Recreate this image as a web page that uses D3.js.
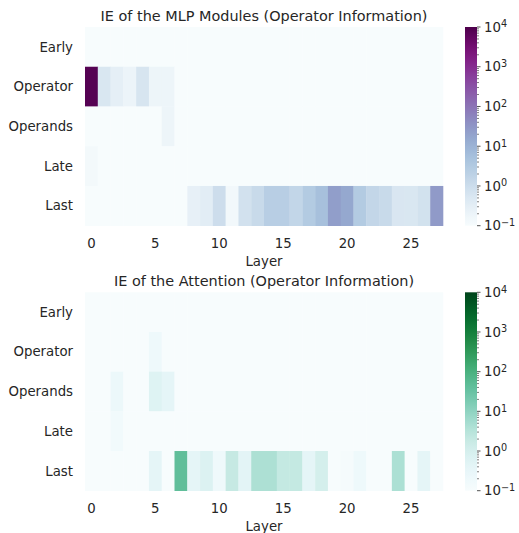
<!DOCTYPE html>
<html><head><meta charset="utf-8">
<script src="https://cdn.jsdelivr.net/npm/d3@7"></script>
<style>body{margin:0;background:#fff;} text{font-family:"DejaVu Sans",sans-serif;fill:#262626;}</style>
</head><body><svg id="c" width="519" height="533"></svg>
<script>
const rowLabels = ["Early","Operator","Operands","Late","Last"];
const layers = d3.range(28);
const xTickLabels = [0,5,10,15,20,25];
const cbTickExps = [-1,0,1,2,3,4];
const Z = 0.05;
// MLP IE values
const mlpEarly    = [Z,Z,Z,Z,Z,Z,Z,Z,Z,Z,Z,Z,Z,Z,Z,Z,Z,Z,Z,Z,Z,Z,Z,Z,Z,Z,Z,Z];
const mlpOperator = [8000,0.55,0.3,0.2,0.6,0.18,0.18,Z,Z,Z,Z,Z,Z,Z,Z,Z,Z,Z,Z,Z,Z,Z,Z,Z,Z,Z,Z,Z];
const mlpOperands = [Z,Z,Z,Z,Z,Z,0.18,Z,Z,Z,Z,Z,Z,Z,Z,Z,Z,Z,Z,Z,Z,Z,Z,Z,Z,Z,Z,Z];
const mlpLate     = [0.13,Z,Z,Z,Z,Z,Z,Z,Z,Z,Z,Z,Z,Z,Z,Z,Z,Z,Z,Z,Z,Z,Z,Z,Z,Z,Z,Z];
const mlpLast     = [Z,Z,Z,Z,Z,Z,Z,Z,0.27,0.35,0.97,0.14,0.78,1.2,2.4,2.4,1.55,3,5.3,23,16,3,1.5,1.2,0.56,0.55,0.75,27];
// Attention IE values
const attEarly    = [Z,Z,Z,Z,Z,Z,Z,Z,Z,Z,Z,Z,Z,Z,Z,Z,Z,Z,Z,Z,Z,Z,Z,Z,Z,Z,Z,Z];
const attOperator = [Z,Z,Z,Z,Z,0.2,Z,Z,Z,Z,Z,Z,Z,Z,Z,Z,Z,Z,Z,Z,Z,Z,Z,Z,Z,Z,Z,Z];
const attOperands = [Z,Z,0.23,Z,Z,0.6,0.4,Z,Z,Z,Z,Z,Z,Z,Z,Z,Z,Z,Z,Z,Z,Z,Z,Z,Z,Z,Z,Z];
const attLate     = [Z,Z,0.16,Z,Z,Z,Z,Z,Z,Z,Z,Z,Z,Z,Z,Z,Z,Z,Z,Z,Z,Z,Z,Z,Z,Z,Z,Z];
const attLast     = [Z,Z,Z,Z,Z,0.38,Z,42,0.4,0.67,0.19,1.9,0.45,4.2,4.2,2.0,2.0,0.4,1.06,Z,0.12,0.2,Z,Z,4.3,Z,0.4,Z];

const svg = d3.select("#c");
const FS = "13.3px";

function panel(cfg){
  const {rows, interp, title, top, bottom} = cfg;
  const x = d3.scaleBand().domain(layers).range([85,443]).padding(0);
  const y = d3.scaleBand().domain(rowLabels).range([top,bottom]).padding(0);
  const norm = d3.scaleLog().domain([0.1,1e4]).range([0,1]).clamp(true);
  const color = v => interp(norm(v));
  const g = svg.append("g");
  rows.forEach((arr,ri)=>{
    g.selectAll(null).data(arr).enter().append("rect")
      .attr("x",(d,i)=>x(i)).attr("y",y(rowLabels[ri]))
      .attr("width",x.bandwidth()+0.3).attr("height",y.bandwidth()+0.3)
      .attr("fill",d=>color(d));
  });
  g.selectAll(null).data(rowLabels).enter().append("text")
    .attr("x",73).attr("y",d=>y(d)+y.bandwidth()/2).attr("dy","0.35em")
    .attr("text-anchor","end").style("font-size",FS).text(d=>d);
  g.selectAll(null).data(xTickLabels).enter().append("text")
    .attr("x",d=>x(d)+x.bandwidth()/2).attr("y",bottom+17.5).attr("dy","0.35em")
    .attr("text-anchor","middle").style("font-size",FS).text(d=>d);
  g.append("text").attr("x",264).attr("y",bottom+36).attr("dy","0.35em")
    .attr("text-anchor","middle").style("font-size",FS).text("Layer");
  const tt = g.append("text").attr("x",264).attr("y",top-11.5).attr("dy","0.35em")
    .attr("text-anchor","middle").style("font-size","13px").text(title);
  const target = cfg.titleWidth;
  const w = tt.node().getComputedTextLength();
  if (w > 0) tt.style("font-size", (13*target/w).toFixed(2)+"px");
  // colorbar
  const id = "grad"+Math.round(top);
  const grad = svg.append("defs").append("linearGradient").attr("id",id)
    .attr("x1",0).attr("x2",0).attr("y1",1).attr("y2",0);
  d3.range(0,1.0001,0.02).forEach(t=>grad.append("stop").attr("offset",t).attr("stop-color",interp(t)));
  const cy = d3.scaleLog().domain([0.1,1e4]).range([bottom,top]);
  g.append("rect").attr("x",465).attr("y",top).attr("width",12).attr("height",bottom-top).attr("fill",`url(#${id})`);
  const minor = [];
  for(let e=-1;e<4;e++) for(let m=2;m<10;m++) minor.push(m*Math.pow(10,e));
  g.selectAll(null).data(minor).enter().append("line")
    .attr("x1",477).attr("x2",479).attr("y1",d=>cy(d)).attr("y2",d=>cy(d))
    .attr("stroke","#262626").attr("stroke-width",0.6);
  g.selectAll(null).data(cbTickExps).enter().append("line")
    .attr("x1",477).attr("x2",480.5).attr("y1",d=>cy(Math.pow(10,d))).attr("y2",d=>cy(Math.pow(10,d)))
    .attr("stroke","#262626").attr("stroke-width",0.8);
  const tl = g.selectAll(null).data(cbTickExps).enter().append("text")
    .attr("x",484).attr("y",d=>cy(Math.pow(10,d))).attr("dy","0.35em").style("font-size",FS);
  tl.append("tspan").text("10");
  tl.append("tspan").attr("dy","-0.45em").style("font-size","9.7px").text(d=>d<0?"\u2212"+(-d):d);
}

panel({rows:[mlpEarly,mlpOperator,mlpOperands,mlpLate,mlpLast], interp:d3.interpolateBuPu,
  title:"IE of the MLP Modules (Operator Information)", top:27, bottom:225.7, titleWidth:327});
panel({rows:[attEarly,attOperator,attOperands,attLate,attLast], interp:d3.interpolateBuGn,
  title:"IE of the Attention (Operator Information)", top:292.3, bottom:490.7, titleWidth:300});
</script></body></html>
